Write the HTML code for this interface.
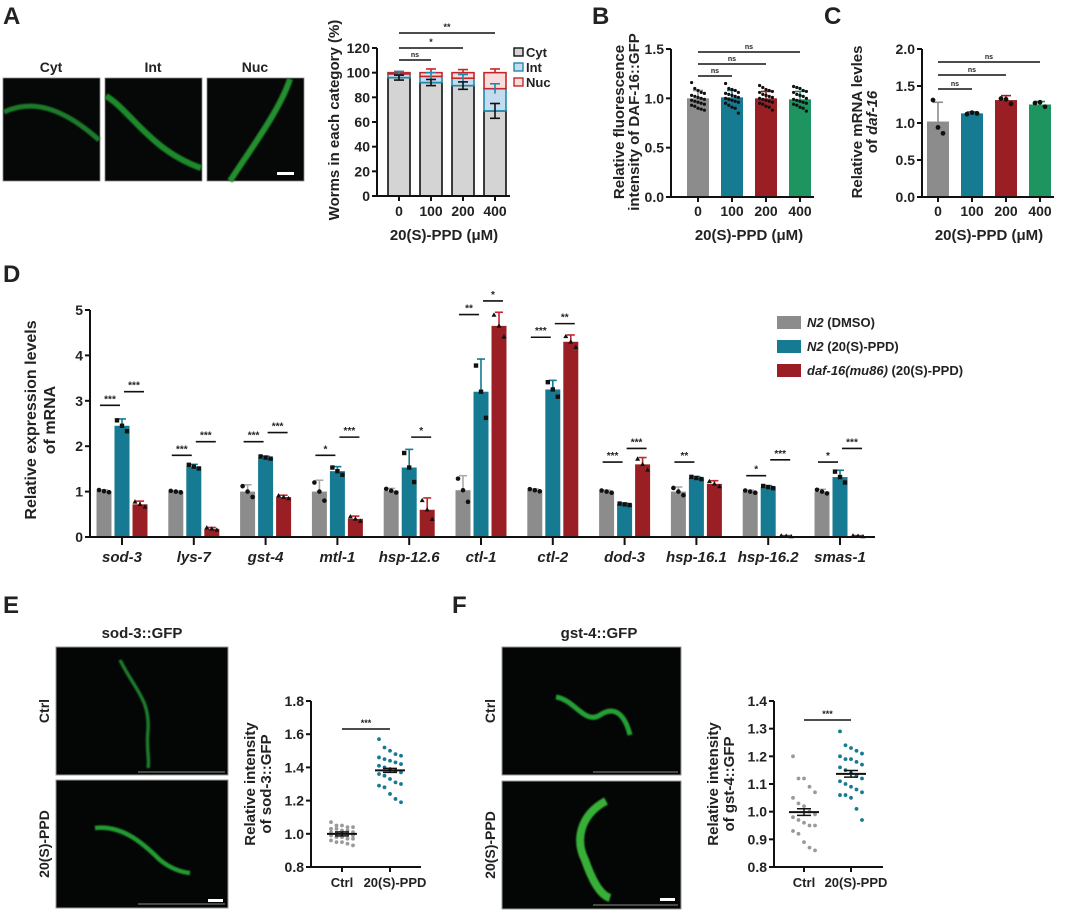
<!DOCTYPE html>
<html><head><meta charset="utf-8">
<style>
html,body{margin:0;padding:0;background:#fff;}
svg{display:block;font-family:"Liberation Sans",Arial,sans-serif;}
text{font-weight:bold;fill:#222;}
</style></head>
<body>
<svg id="fig" width="1065" height="911" viewBox="0 0 1065 911" xmlns="http://www.w3.org/2000/svg">
<defs>
<filter id="glow" x="-20%" y="-20%" width="140%" height="140%"><feGaussianBlur stdDeviation="0.9"/></filter>
</defs>
<text x="3" y="24" font-size="24">A</text>
<text x="592" y="24" font-size="24">B</text>
<text x="824" y="24" font-size="24">C</text>
<text x="3" y="282" font-size="24">D</text>
<text x="3" y="613" font-size="24">E</text>
<text x="452" y="613" font-size="24">F</text>

<g>
<text x="51" y="72" font-size="14" text-anchor="middle">Cyt</text>
<text x="153" y="72" font-size="14" text-anchor="middle">Int</text>
<text x="255" y="72" font-size="14" text-anchor="middle">Nuc</text>
<rect x="3" y="78" width="97" height="103" fill="#050806" stroke="#888" stroke-width="0.8"/>
<rect x="105" y="78" width="97" height="103" fill="#050806" stroke="#888" stroke-width="0.8"/>
<rect x="207" y="78" width="97" height="103" fill="#050806" stroke="#888" stroke-width="0.8"/>
<path d="M4 112 C30 100,60 105,99 140" stroke="#1f7a2a" stroke-width="5" fill="none" filter="url(#glow)"/>
<path d="M106 96 C130 110,150 150,201 168" stroke="#1f8a2c" stroke-width="6" fill="none" filter="url(#glow)"/>
<path d="M290 79 C280 110,250 150,230 181" stroke="#22902e" stroke-width="6" fill="none" filter="url(#glow)"/>
<rect x="277" y="172" width="17" height="3" fill="#fff"/>
</g>

<g>
<text x="142" y="638" font-size="15" text-anchor="middle">sod-3::GFP</text>
<rect x="56" y="647" width="172" height="128" fill="#030604" stroke="#999"/>
<rect x="56" y="780" width="172" height="128" fill="#030604" stroke="#999"/>
<path d="M120 660 C135 690,150 700,148 730 C146 750,150 760,148 768" stroke="#1f7a2a" stroke-width="3.5" fill="none" filter="url(#glow)"/>
<path d="M95 828 C120 825,140 840,160 860 C170 868,180 872,190 873" stroke="#239a32" stroke-width="4.5" fill="none" filter="url(#glow)"/>
<line x1="138" y1="772" x2="225" y2="772" stroke="#bbb" stroke-width="0.8"/>
<line x1="138" y1="904" x2="225" y2="904" stroke="#bbb" stroke-width="0.8"/>
<rect x="208" y="899" width="15" height="3" fill="#fff"/>
<text transform="translate(49,711) rotate(-90)" font-size="14" text-anchor="middle">Ctrl</text>
<text transform="translate(49,844) rotate(-90)" font-size="14" text-anchor="middle">20(S)-PPD</text>
</g>
<g>
<text x="599" y="638" font-size="15" text-anchor="middle">gst-4::GFP</text>
<rect x="502" y="647" width="179" height="128" fill="#030604" stroke="#999"/>
<rect x="502" y="781" width="179" height="128" fill="#030604" stroke="#999"/>
<path d="M556 697 C575 700,585 725,600 715 C615 705,625 715,630 735" stroke="#28a035" stroke-width="5" fill="none" filter="url(#glow)"/>
<path d="M606 801 C580 815,575 840,585 860 C592 880,600 895,610 898" stroke="#38b038" stroke-width="8" fill="none" filter="url(#glow)"/>
<line x1="593" y1="772" x2="678" y2="772" stroke="#bbb" stroke-width="0.8"/>
<line x1="593" y1="905" x2="678" y2="905" stroke="#bbb" stroke-width="0.8"/>
<rect x="660" y="898" width="15" height="3" fill="#fff"/>
<text transform="translate(495,711) rotate(-90)" font-size="14" text-anchor="middle">Ctrl</text>
<text transform="translate(495,845) rotate(-90)" font-size="14" text-anchor="middle">20(S)-PPD</text>
</g>
<g id="charts"></g>
</svg>
<script>
var doses = ['0','100','200','400'];
var aCyt = [96, 92, 89.5, 69];
var aInt = [3, 5, 6, 18];
var aNuc = [1, 3, 4.5, 13];
var aCytErr = [2, 2.5, 3, 6];
var aIntErr = [2, 3, 3, 4];
var aNucErr = [1, 3, 2.5, 3];
var aTicks = [0,20,40,60,80,100,120];

var bMeans = [1.0, 1.01, 1.0, 0.99];
var bSd = [0.08, 0.07, 0.07, 0.08];
var bPts0 = [1.16,1.10,1.08,1.06,1.05,1.03,1.02,1.01,1.0,0.99,0.98,0.97,0.96,0.95,0.94,0.93,0.92,0.90,0.89,0.88];
var bPts1 = [1.15,1.10,1.09,1.08,1.06,1.05,1.04,1.03,1.02,1.01,1.0,0.99,0.98,0.97,0.96,0.95,0.93,0.91,0.90,0.85];
var bPts2 = [1.13,1.11,1.09,1.08,1.07,1.06,1.04,1.03,1.02,1.01,1.0,0.99,0.98,0.97,0.96,0.95,0.94,0.92,0.91,0.88];
var bPts3 = [1.12,1.11,1.10,1.08,1.07,1.06,1.04,1.03,1.02,1.0,0.99,0.98,0.97,0.96,0.95,0.94,0.93,0.91,0.90,0.87];
var bTicks = [0,0.5,1.0,1.5];

var cMeans = [1.02, 1.13, 1.31, 1.25];
var cSd = [0.26, 0.02, 0.06, 0.04];
var cPts0 = [1.31, 0.94, 0.86];
var cPts1 = [1.12, 1.14, 1.13];
var cPts2 = [1.33, 1.32, 1.26];
var cPts3 = [1.27, 1.28, 1.22];
var cTicks = [0,0.5,1.0,1.5,2.0];

var genes = ['sod-3','lys-7','gst-4','mtl-1','hsp-12.6','ctl-1','ctl-2','dod-3','hsp-16.1','hsp-16.2','smas-1'];
var dDmso = [1.01, 1.0, 1.0, 1.0, 1.02, 1.03, 1.03, 1.0, 1.0, 1.0, 1.0];
var dPpd  = [2.45, 1.55, 1.75, 1.45, 1.53, 3.2, 3.25, 0.72, 1.3, 1.1, 1.32];
var dMut  = [0.72, 0.18, 0.88, 0.4, 0.6, 4.65, 4.3, 1.6, 1.17, 0.02, 0.02];
var dDmsoSd = [0.03,0.02,0.15,0.25,0.05,0.32,0.03,0.03,0.1,0.03,0.05];
var dPpdSd  = [0.15,0.05,0.03,0.1,0.4,0.72,0.2,0.02,0.03,0.03,0.15];
var dMutSd  = [0.07,0.03,0.04,0.06,0.26,0.3,0.15,0.15,0.07,0.01,0.01];
var dTicks = [0,1,2,3,4,5];
var sigGene = [0,0,1,1,2,2,3,3,4,5,5,6,6,7,7,8,9,9,10,10];
var sigPair = [0,1,0,1,0,1,0,1,1,0,1,0,1,0,1,0,0,1,0,1];
var sigY    = [2.9,3.2,1.8,2.1,2.1,2.3,1.8,2.2,2.2,4.9,5.2,4.4,4.7,1.65,1.95,1.65,1.35,1.7,1.65,1.95];
var sigLbl  = ['***','***','***','***','***','***','*','***','*','**','*','***','**','***','***','**','*','***','*','***'];

var eCtrl = [1.07,1.05,1.05,1.04,1.04,1.03,1.03,1.02,1.02,1.01,1.01,1.0,1.0,1.0,0.99,0.99,0.98,0.98,0.97,0.97,0.96,0.95,0.95,0.94,0.93];
var ePpd  = [1.57,1.52,1.50,1.48,1.47,1.46,1.45,1.44,1.43,1.42,1.41,1.40,1.39,1.38,1.37,1.36,1.35,1.33,1.31,1.30,1.29,1.28,1.24,1.21,1.19];
var eTicks = [0.8,1.0,1.2,1.4,1.6,1.8];
var fCtrl = [1.20,1.12,1.12,1.09,1.07,1.05,1.03,1.02,1.0,0.99,0.98,0.97,0.96,0.95,0.95,0.93,0.92,0.89,0.87,0.86];
var fPpd  = [1.29,1.24,1.23,1.22,1.21,1.20,1.19,1.19,1.18,1.17,1.16,1.15,1.14,1.13,1.12,1.11,1.10,1.09,1.08,1.07,1.06,1.06,1.05,1.01,0.97];
var fTicks = [0.8,0.9,1.0,1.1,1.2,1.3,1.4];

var NS='http://www.w3.org/2000/svg';
var root=document.getElementById('charts');
function mk(tag, attrs, parent){var e=document.createElementNS(NS,tag);for(var k in attrs)e.setAttribute(k,attrs[k]);(parent||root).appendChild(e);return e;}
function txt(s,x,y,size,anchor,parent,extra){var t=mk('text',{x:x,y:y,'font-size':size,'text-anchor':anchor||'middle'},parent);if(extra)for(var k in extra)t.setAttribute(k,extra[k]);t.textContent=s;return t;}
function lin(y0px,y1px,v0,v1){return function(v){return y0px+(v-v0)*(y1px-y0px)/(v1-v0);};}
function yAxis(g,x,ys,ticks,fmt,y0,y1){
  mk('line',{x1:x,y1:ys(y0),x2:x,y2:ys(y1),stroke:'#111','stroke-width':2},g);
  ticks.forEach(function(t){var yy=ys(t);
    mk('line',{x1:x-5,y1:yy,x2:x,y2:yy,stroke:'#111','stroke-width':2},g);
    var tl=txt(fmt(t),x-7,yy+5,14,'end',g);
    
    
  });
}
function errbar(g,x,ytop,ybot,w,col){
  mk('line',{x1:x,y1:ytop,x2:x,y2:ybot,stroke:col,'stroke-width':1.6},g);
  mk('line',{x1:x-w,y1:ytop,x2:x+w,y2:ytop,stroke:col,'stroke-width':1.6},g);
}
function sigline(g,x1,x2,y,lbl,sz){
  mk('line',{x1:x1,y1:y,x2:x2,y2:y,stroke:'#111','stroke-width':1.6},g);
  txt(lbl,(x1+x2)/2,y-3,sz||9,'middle',g);
}

(function(){
  var g=mk('g',{});
  
  
  var ys=lin(196,48,0,120), ax=377, xs=[399,431,463,495], bw=22;
  for(var i=0;i<4;i++){
    var x=xs[i]-bw/2;
    var c=aCyt[i], n=aInt[i], u=aNuc[i];
    var r1=mk('rect',{x:x,y:ys(c),width:bw,height:ys(0)-ys(c),fill:'#d4d4d4',stroke:'#111','stroke-width':1.6},g);
    
    
    var r2=mk('rect',{x:x,y:ys(c+n),width:bw,height:ys(c)-ys(c+n),fill:'#c5dbef',stroke:'#1e8aa8','stroke-width':1.6},g);
    
    
    var r3=mk('rect',{x:x,y:ys(c+n+u),width:bw,height:ys(c+n)-ys(c+n+u),fill:'#f8dcdc',stroke:'#c0282c','stroke-width':1.6},g);
    
    
    errbar(g,xs[i],ys(c+n+u+aNucErr[i]),ys(c+n+u),5,'#c0282c');
    errbar(g,xs[i],ys(c+n+aIntErr[i]),ys(c+n-aIntErr[i]),5,'#1e8aa8');
    mk('line',{x1:xs[i]-5,y1:ys(c-aCytErr[i]),x2:xs[i]+5,y2:ys(c-aCytErr[i]),stroke:'#111','stroke-width':1.6},g);
    errbar(g,xs[i],ys(c+aCytErr[i]),ys(c-aCytErr[i]),5,'#111');
    mk('line',{x1:xs[i],y1:ys(0),x2:xs[i],y2:ys(0)+5,stroke:'#111','stroke-width':2},g);
    var tl=txt(doses[i],xs[i],216,14,'middle',g);
    
    
  }
  mk('line',{x1:ax,y1:ys(0),x2:510,y2:ys(0),stroke:'#111','stroke-width':2},g);
  yAxis(g,ax,ys,aTicks,function(t){return String(t);},0,120);
  sigline(g,xs[0],xs[1],60,'ns',7);sigline(g,xs[0],xs[2],48,'*',9);sigline(g,xs[0],xs[3],33,'**',9);
  var xt=txt('20(S)-PPD (μM)',444,240,15,'middle',g);
  
  
  var yt=txt('Worms in each category (%)',0,0,15,'middle',g,{transform:'translate(339,120) rotate(-90)'});
  
  
  var leg=[['Cyt','#d4d4d4','#111'],['Int','#c5dbef','#1e8aa8'],['Nuc','#f8dcdc','#c0282c']];
  leg.forEach(function(l,k){
    var y=48+k*15;
    var r=mk('rect',{x:514,y:y,width:9,height:8,fill:l[1],stroke:l[2],'stroke-width':1.4},g);
    
    
    var t=txt(l[0],526,y+9,13,'start',g);
    
    
  });
})();

var barCols=['#8c8c8c','#157a92','#9a1f24','#1e9460'];
function doseBars(name,ax,xs,means,sd,pts,ticks,ymax,fmt,ptR,ptDx,sigYs,ytitle1,ytitle2,ytx){
  var g=mk('g',{});
  
  
  var ys=lin(197,49,0,ymax), bw=22;
  for(var i=0;i<4;i++){
    var r=mk('rect',{x:xs[i]-bw/2,y:ys(means[i]),width:bw,height:ys(0)-ys(means[i]),fill:barCols[i]},g);
    
    
    errbar(g,xs[i],ys(means[i]+sd[i]),ys(means[i]),5,i===0?'#8c8c8c':barCols[i]);
    pts[i].forEach(function(v,k){
      var n=pts[i].length;
      var dx = n>3 ? ((k%5)-2)*ptDx : (k-1)*ptDx;
      var c=mk('circle',{cx:xs[i]+dx,cy:ys(v),r:ptR,fill:'#111'},g);
      
      
    });
    mk('line',{x1:xs[i],y1:ys(0),x2:xs[i],y2:ys(0)+5,stroke:'#111','stroke-width':2},g);
    var tl=txt(doses[i],xs[i],216,14,'middle',g);
    
    
  }
  mk('line',{x1:ax,y1:ys(0),x2:xs[3]+14,y2:ys(0),stroke:'#111','stroke-width':2},g);
  yAxis(g,ax,ys,ticks,fmt,0,ymax);
  sigline(g,xs[0],xs[1],sigYs[0],'ns',7);sigline(g,xs[0],xs[2],sigYs[1],'ns',7);sigline(g,xs[0],xs[3],sigYs[2],'ns',7);
  var xt=txt('20(S)-PPD (μM)',(xs[0]+xs[3])/2,240,15,'middle',g);
  
  
  var y1=txt(ytitle1,0,0,15,'middle',g,{transform:'translate('+ytx+',122) rotate(-90)'});
  
  
  var y2=mk('text',{transform:'translate('+(ytx+15)+',122) rotate(-90)','font-size':15,'text-anchor':'middle'},g);
  
  
  y2.innerHTML=ytitle2;
  return g;
}
doseBars('panel-b-chart',671,[698,732,766,800],bMeans,bSd,[bPts0,bPts1,bPts2,bPts3],bTicks,1.5,function(t){return t.toFixed(1);},1.6,3.2,[76,64,52],'Relative fluorescence','intensity of DAF-16::GFP',624);
doseBars('panel-c-chart',922,[938,972,1006,1040],cMeans,cSd,[cPts0,cPts1,cPts2,cPts3],cTicks,2.0,function(t){return t.toFixed(1);},2.4,5,[89,75,62],'Relative mRNA levles','of <tspan font-style="italic">daf-16</tspan>',862);

(function(){
  var g=mk('g',{});
  
  
  var ys=lin(537,310,0,5), ax=90, bw=15;
  function gx(i){return 122+i*71.8;}
  var series=[[dDmso,dDmsoSd,'#8c8c8c',-18,'circle'],[dPpd,dPpdSd,'#157a92',0,'square'],[dMut,dMutSd,'#9a1f24',18,'tri']];
  for(var i=0;i<genes.length;i++){
    series.forEach(function(s,si){
      var cx=gx(i)+s[3], v=s[0][i], sdv=s[1][i];
      var r=mk('rect',{x:cx-bw/2,y:ys(v),width:bw,height:ys(0)-ys(v),fill:s[2]},g);
      
      
      errbar(g,cx,ys(v+sdv),ys(v),4,si===0?'#aaa':(si===1?'#157a92':'#c0282c'));
      var pv=[v+sdv*0.8,v,v-sdv*0.8];
      pv.forEach(function(p,k){
        var px=cx+(k-1)*5, py=ys(Math.max(p,0.01));
        var m;
        if(s[4]==='circle') m=mk('circle',{cx:px,cy:py,r:2.3,fill:'#111'},g);
        else if(s[4]==='square') m=mk('rect',{x:px-2.2,y:py-2.2,width:4.4,height:4.4,fill:'#111'},g);
        else m=mk('path',{d:'M'+px+' '+(py-2.6)+' L'+(px+2.5)+' '+(py+1.8)+' L'+(px-2.5)+' '+(py+1.8)+'Z',fill:'#111'},g);
        
        
      });
    });
    mk('line',{x1:gx(i),y1:ys(0),x2:gx(i),y2:ys(0)+8,stroke:'#111','stroke-width':2},g);
    var tl=txt(genes[i],gx(i),562,15,'middle',g,{'font-style':'italic'});
    
    
  }
  mk('line',{x1:ax,y1:ys(0),x2:875,y2:ys(0),stroke:'#111','stroke-width':2},g);
  yAxis(g,ax,ys,dTicks,function(t){return String(t);},0,5);
  for(var k=0;k<sigGene.length;k++){
    var c=gx(sigGene[k]), x1, x2;
    if(sigPair[k]===1){x1=c+2;x2=c+22;}
    else {x1=c-22;x2=c-2;}
    sigline(g,x1,x2,ys(sigY[k]),sigLbl[k],10);
  }
  var y1=txt('Relative expression levels',0,0,16,'middle',g,{transform:'translate(36,420) rotate(-90)'});
  
  
  var y2=txt('of mRNA',0,0,16,'middle',g,{transform:'translate(55,420) rotate(-90)'});
  
  
  var leg=[['#8c8c8c','<tspan font-style="italic">N2</tspan> (DMSO)'],['#157a92','<tspan font-style="italic">N2</tspan> (20(S)-PPD)'],['#9a1f24','<tspan font-style="italic">daf-16(mu86)</tspan> (20(S)-PPD)']];
  leg.forEach(function(l,k){
    var y=316+k*24;
    var r=mk('rect',{x:777,y:y,width:24,height:13,fill:l[0]},g);
    
    
    var t=mk('text',{x:807,y:y+11,'font-size':13},g);
    
    
    t.innerHTML=l[1];
  });
})();

function scatter(name,ax,xend,xc,xp,ctrl,ppd,ticks,lo,hi,sigY,title2){
  var g=mk('g',{});
  
  
  var ys=lin(867,701,lo,hi);
  [[ctrl,xc,'#9a9a9a'],[ppd,xp,'#157a92']].forEach(function(s,si){
    var sum=0;
    s[0].forEach(function(v,k){
      sum+=v;
      var dx=((k%5)-2)*5.5;
      var c=mk('circle',{cx:s[1]+dx,cy:ys(v),r:1.9,fill:s[2]},g);
      
      
    });
    var m=sum/s[0].length;
    var sem=0.012;
    mk('line',{x1:s[1]-15,y1:ys(m),x2:s[1]+15,y2:ys(m),stroke:'#111','stroke-width':2},g);
    mk('line',{x1:s[1],y1:ys(m-sem),x2:s[1],y2:ys(m+sem),stroke:'#111','stroke-width':1.5},g);
    mk('line',{x1:s[1]-7,y1:ys(m-sem),x2:s[1]+7,y2:ys(m-sem),stroke:'#111','stroke-width':1.5},g);
    mk('line',{x1:s[1]-7,y1:ys(m+sem),x2:s[1]+7,y2:ys(m+sem),stroke:'#111','stroke-width':1.5},g);
    mk('line',{x1:s[1],y1:867,x2:s[1],y2:872,stroke:'#111','stroke-width':2},g);
  });
  mk('line',{x1:ax,y1:867,x2:xend,y2:867,stroke:'#111','stroke-width':2},g);
  yAxis(g,ax,ys,ticks,function(t){return t.toFixed(1);},lo,hi);
  sigline(g,xc,xp,sigY,'***',9);
  var a=txt('Ctrl',xc,887,13,'middle',g);
  var b=txt('20(S)-PPD',xp+5,887,13,'middle',g);
  var y1=txt('Relative intensity',0,0,15,'middle',g,{transform:'translate('+(ax-56)+',784) rotate(-90)'});
  
  var y2=txt(title2,0,0,15,'middle',g,{transform:'translate('+(ax-40)+',784) rotate(-90)'});
  
}
scatter('panel-e-scatter',311,421,342,390,eCtrl,ePpd,eTicks,0.8,1.8,729,'of sod-3::GFP');
scatter('panel-f-scatter',774,883,804,851,fCtrl,fPpd,fTicks,0.8,1.4,720,'of gst-4::GFP');
</script>
</body></html>
